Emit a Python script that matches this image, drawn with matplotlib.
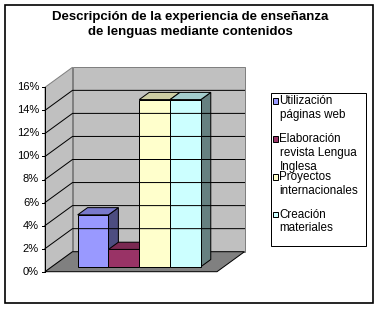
import matplotlib.pyplot as plt
from matplotlib.patches import Polygon, Rectangle

plt.rcParams['font.family'] = ['Liberation Sans', 'DejaVu Sans']

# --- données ---
title = "Descripción de la experiencia de enseñanza\nde lenguas mediante contenidos"
labels = ["Utilización\npáginas web",
          "Elaboración\nrevista Lengua\nInglesa",
          "Proyectos\ninternacionales",
          "Creación\nmateriales"]
values = [4.5, 1.5, 14.5, 14.5]          # en %
colors = ["#9999FF", "#993366", "#FFFFCC", "#CCFFFF"]
yticks = [0, 2, 4, 6, 8, 10, 12, 14, 16]

# --- géométrie (pixels) de la projection oblique ---
X0, Y0 = 45.0, 271.7          # coin avant gauche, 0 %
S = (271.7 - 87.3) / 16       # pixels par %
DX, DY = 27.5, 20.0           # profondeur totale
W = 172.0                     # largeur du sol
BAR_X0, BAR_W = 25.8, 30.8
BAR_Z0, BAR_Z1 = 0.25, 0.61
VMAX = 16


def proj(x, z, v):
    return (X0 + x + z * DX, Y0 - v * S - z * DY)


def shade(c, f):
    r, g, b = [int(c[i:i + 2], 16) / 255 for i in (1, 3, 5)]
    return (r * f, g * f, b * f)


fig = plt.figure(figsize=(3.81, 3.10), dpi=100)
ax = fig.add_axes([0, 0, 1, 1])
ax.set_xlim(0, 381)
ax.set_ylim(310, 0)
ax.axis('off')

lw = 0.72

# cadre extérieur
ax.add_patch(Rectangle((5, 5), 368, 298, fill=False, edgecolor='black', lw=1.2))

# murs
back = [proj(0, 1, 0), proj(W, 1, 0), proj(W, 1, VMAX), proj(0, 1, VMAX)]
left = [proj(0, 0, 0), proj(0, 1, 0), proj(0, 1, VMAX), proj(0, 0, VMAX)]
floor = [proj(0, 0, 0), proj(W, 0, 0), proj(W, 1, 0), proj(0, 1, 0)]
ax.add_patch(Polygon(back, closed=True, facecolor='#C0C0C0', edgecolor='#808080', lw=lw))
ax.add_patch(Polygon(left, closed=True, facecolor='#C0C0C0', edgecolor='#808080', lw=lw))

# lignes de grille
for v in yticks[1:-1]:
    pts = [proj(0, 0, v), proj(0, 1, v), proj(W, 1, v)]
    ax.plot([p[0] for p in pts], [p[1] for p in pts], color='black', lw=lw)

ax.add_patch(Polygon(floor, closed=True, facecolor='#808080', edgecolor='black', lw=lw))

# axe vertical + graduations
p0, p1 = proj(0, 0, 0), proj(0, 0, VMAX)
ax.plot([p0[0], p1[0]], [p0[1], p1[1]], color='black', lw=lw)
for v in yticks:
    x, y = proj(0, 0, v)
    ax.plot([x - 3, x], [y, y], color='black', lw=lw)
    ax.text(x - 6, y, f"{v}%", ha='right', va='center', fontsize=8)

# barres 3D
for i, (val, c) in enumerate(zip(values, colors)):
    xa = BAR_X0 + i * BAR_W
    xb = xa + BAR_W
    front = [proj(xa, BAR_Z0, 0), proj(xb, BAR_Z0, 0), proj(xb, BAR_Z0, val), proj(xa, BAR_Z0, val)]
    top = [proj(xa, BAR_Z0, val), proj(xb, BAR_Z0, val), proj(xb, BAR_Z1, val), proj(xa, BAR_Z1, val)]
    side = [proj(xb, BAR_Z0, 0), proj(xb, BAR_Z1, 0), proj(xb, BAR_Z1, val), proj(xb, BAR_Z0, val)]
    ax.add_patch(Polygon(side, closed=True, facecolor=shade(c, 0.5), edgecolor='black', lw=lw))
    ax.add_patch(Polygon(front, closed=True, facecolor=c, edgecolor='black', lw=lw))
    ax.add_patch(Polygon(top, closed=True, facecolor=shade(c, 0.8), edgecolor='black', lw=lw))

# titre
ax.text(190, 24.5, title, ha='center', va='center', fontsize=9.5,
        fontweight='bold', linespacing=1.32)

# légende
ax.add_patch(Rectangle((271, 93), 95, 153, facecolor='white', edgecolor='black', lw=lw))
entry_y = [101, 139, 177, 214.5]
for lab, c, y in zip(labels, colors, entry_y):
    ax.add_patch(Rectangle((272.5, y - 3), 5.5, 5.5, facecolor=c, edgecolor='black', lw=lw))
    ax.text(279.5, y - 6, lab, ha='left', va='top', fontsize=8.4, linespacing=1.2)

fig.savefig('out.png', dpi=100)
